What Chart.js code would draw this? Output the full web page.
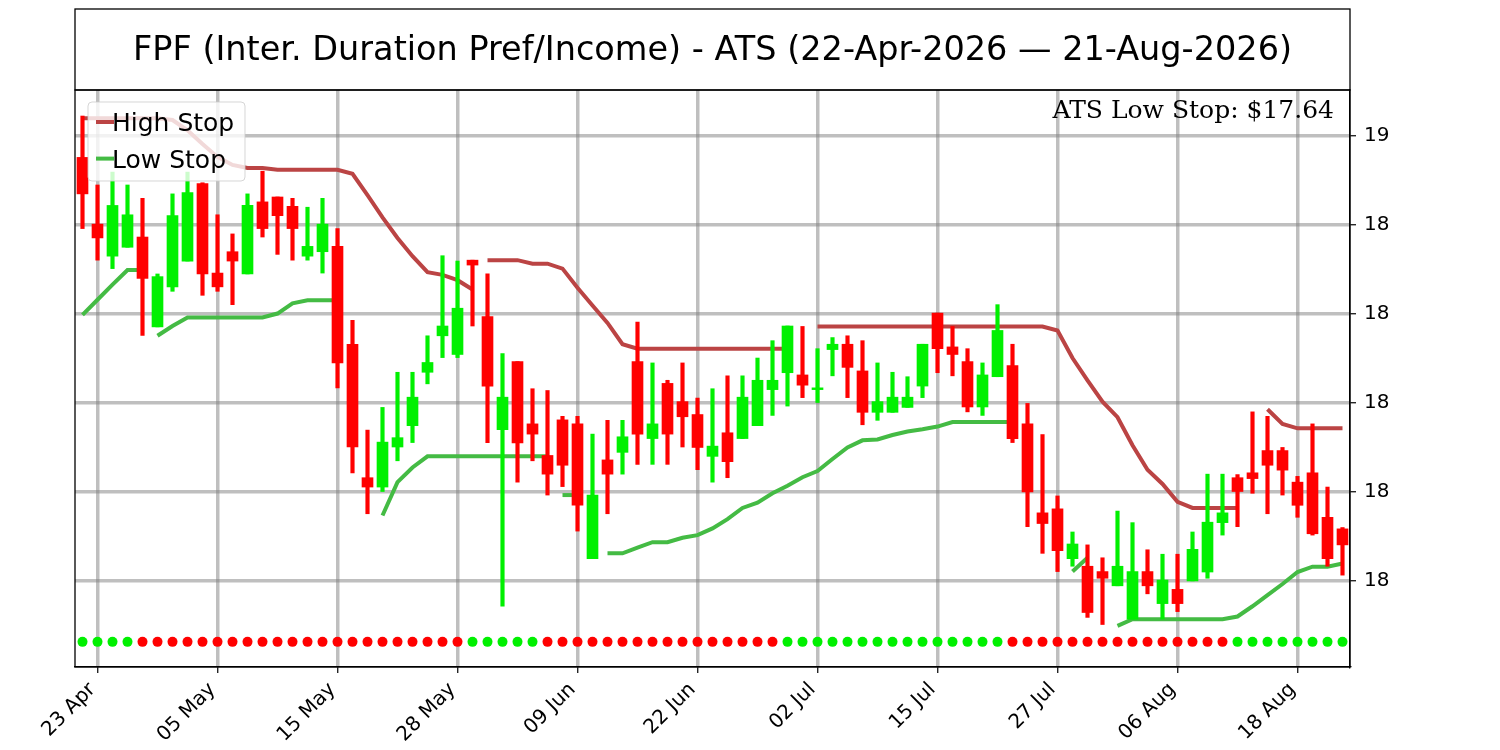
<!DOCTYPE html>
<html>
<head>
<meta charset="utf-8">
<title>FPF - ATS</title>
<script src="https://cdn.jsdelivr.net/npm/chart.js@4.4.1/dist/chart.umd.min.js"></script>
<style>
  html, body { margin: 0; padding: 0; background: #fff; }
  #wrap { width: 1500px; height: 750px; }
  canvas { display: block; }
</style>
</head>
<body>
<div id="wrap"><canvas id="atsChart" width="1500" height="750"></canvas></div>
<script>
// trading days, 22 Apr 2026 - 21 Aug 2026
const dates = [
    '22 Apr', '23 Apr', '24 Apr', '27 Apr', '28 Apr', '29 Apr', '30 Apr',
    '01 May', '04 May', '05 May', '06 May', '07 May', '08 May', '11 May', '12 May', '13 May', '14 May', '15 May',
    '18 May', '19 May', '20 May', '21 May', '22 May', '26 May', '27 May', '28 May', '29 May',
    '01 Jun', '02 Jun', '03 Jun', '04 Jun', '05 Jun', '08 Jun', '09 Jun', '10 Jun', '11 Jun', '12 Jun',
    '15 Jun', '16 Jun', '17 Jun', '18 Jun', '22 Jun', '23 Jun', '24 Jun', '25 Jun', '26 Jun', '29 Jun', '30 Jun',
    '01 Jul', '02 Jul', '06 Jul', '07 Jul', '08 Jul', '09 Jul', '10 Jul', '13 Jul', '14 Jul', '15 Jul', '16 Jul',
    '17 Jul', '20 Jul', '21 Jul', '22 Jul', '23 Jul', '24 Jul', '27 Jul', '28 Jul', '29 Jul', '30 Jul', '31 Jul',
    '03 Aug', '04 Aug', '05 Aug', '06 Aug', '07 Aug', '10 Aug', '11 Aug', '12 Aug', '13 Aug', '14 Aug',
    '17 Aug', '18 Aug', '19 Aug', '20 Aug', '21 Aug'
];

const open = [
    18.552, 18.402, 18.330, 18.350, 18.373, 18.171, 18.261, 18.319, 18.493, 18.292,
    18.340, 18.290, 18.452, 18.463, 18.442, 18.330, 18.340, 18.352, 18.132, 17.832,
    17.811, 17.901, 17.949, 18.069, 18.151, 18.109, 18.321, 18.194, 17.940, 18.093,
    17.953, 17.882, 17.962, 17.953, 17.650, 17.872, 17.889, 18.093, 17.920, 18.044,
    18.003, 17.974, 17.880, 17.933, 17.920, 17.949, 18.030, 18.068, 18.063, 18.030,
    18.120, 18.132, 18.072, 17.979, 17.979, 17.990, 18.038, 18.202, 18.126, 18.093,
    17.991, 18.059, 18.084, 17.953, 17.753, 17.762, 17.650, 17.633, 17.621, 17.589,
    17.514, 17.621, 17.549, 17.581, 17.600, 17.620, 17.731, 17.832, 17.843, 17.893,
    17.893, 17.822, 17.843, 17.743, 17.717
];
const high = [
    18.645, 18.490, 18.519, 18.490, 18.460, 18.290, 18.470, 18.519, 18.495, 18.423,
    18.380, 18.470, 18.521, 18.463, 18.460, 18.440, 18.460, 18.392, 18.186, 17.939,
    17.990, 18.069, 18.069, 18.151, 18.331, 18.319, 18.321, 18.290, 18.111, 18.093,
    18.032, 18.028, 17.970, 17.970, 17.930, 17.961, 17.961, 18.182, 18.090, 18.051,
    18.090, 18.011, 18.032, 18.061, 18.061, 18.101, 18.140, 18.173, 18.172, 18.122,
    18.147, 18.151, 18.140, 18.090, 18.069, 18.059, 18.132, 18.202, 18.172, 18.122,
    18.090, 18.221, 18.132, 17.999, 17.929, 17.791, 17.710, 17.681, 17.652, 17.757,
    17.731, 17.670, 17.660, 17.660, 17.710, 17.840, 17.840, 17.839, 17.980, 17.970,
    17.900, 17.835, 17.953, 17.811, 17.720
];
const low = [
    18.392, 18.321, 18.302, 18.350, 18.152, 18.171, 18.251, 18.319, 18.242, 18.251,
    18.221, 18.290, 18.373, 18.334, 18.321, 18.321, 18.292, 18.034, 17.843, 17.751,
    17.801, 17.870, 17.911, 18.043, 18.102, 18.102, 18.173, 17.911, 17.543, 17.822,
    17.870, 17.793, 17.812, 17.712, 17.650, 17.751, 17.840, 17.862, 17.862, 17.862,
    17.901, 17.850, 17.822, 17.832, 17.920, 17.949, 17.972, 17.993, 18.012, 18.001,
    18.061, 18.012, 17.951, 17.961, 17.979, 17.990, 18.012, 18.068, 18.061, 17.980,
    17.972, 18.059, 17.911, 17.722, 17.662, 17.621, 17.633, 17.518, 17.502, 17.589,
    17.514, 17.571, 17.514, 17.531, 17.600, 17.606, 17.703, 17.722, 17.797, 17.751,
    17.793, 17.743, 17.703, 17.633, 17.613
];
const close = [
    18.470, 18.371, 18.444, 18.423, 18.280, 18.284, 18.421, 18.473, 18.290, 18.261,
    18.319, 18.444, 18.392, 18.421, 18.392, 18.352, 18.402, 18.090, 17.901, 17.811,
    17.912, 17.922, 18.013, 18.091, 18.173, 18.213, 18.310, 18.038, 18.013, 17.910,
    17.930, 17.840, 17.860, 17.770, 17.793, 17.840, 17.924, 17.930, 17.953, 17.930,
    17.969, 17.900, 17.903, 17.868, 18.013, 18.051, 18.051, 18.173, 18.040, 18.034,
    18.132, 18.080, 17.979, 18.003, 18.013, 18.013, 18.132, 18.122, 18.109, 17.991,
    18.063, 18.163, 17.920, 17.800, 17.729, 17.668, 17.683, 17.529, 17.606, 17.633,
    17.621, 17.589, 17.602, 17.549, 17.671, 17.732, 17.753, 17.801, 17.830, 17.860,
    17.849, 17.770, 17.706, 17.650, 17.681
];

// trailing stops (null = no stop that day)
const highStop = [
    18.640, 18.640, 18.640, 18.640, 18.640, 18.640, 18.636, 18.613, 18.582, 18.553,
    18.535, 18.528, 18.528, 18.524, 18.524, 18.524, 18.524, 18.524, 18.515, 18.467,
    18.417, 18.371, 18.330, 18.294, 18.288, 18.276, 18.255, 18.321, 18.321, 18.321,
    18.313, 18.313, 18.302, 18.259, 18.219, 18.180, 18.132, 18.122, 18.122, 18.122,
    18.122, 18.122, 18.122, 18.122, 18.122, 18.122, 18.122, 18.122, null, 18.172,
    18.172, 18.172, 18.172, 18.172, 18.172, 18.172, 18.172, 18.172, 18.172, 18.172,
    18.172, 18.172, 18.172, 18.172, 18.172, 18.163, 18.101, 18.051, 18.003, 17.968,
    17.905, 17.850, 17.818, 17.778, 17.764, 17.764, 17.764, 17.764, null, 17.986,
    17.953, 17.943, 17.943, 17.943, 17.943
];
const lowStop = [
    18.198, 18.232, 18.266, 18.299, 18.299, 18.151, 18.173, 18.192, 18.192, 18.192,
    18.192, 18.192, 18.192, 18.201, 18.224, 18.231, 18.231, 18.231, null, null,
    17.747, 17.822, 17.855, 17.880, 17.880, 17.880, 17.880, 17.880, 17.880, 17.880,
    17.880, 17.880, 17.793, 17.793, null, 17.662, 17.662, 17.675, 17.687, 17.687,
    17.697, 17.703, 17.718, 17.739, 17.764, 17.776, 17.797, 17.814, 17.833, 17.847,
    17.874, 17.900, 17.916, 17.918, 17.928, 17.936, 17.941, 17.947, 17.957, 17.957,
    17.957, 17.957, 17.957, null, null, null, 17.621, 17.652, null, 17.499,
    17.514, 17.514, 17.514, 17.514, 17.514, 17.514, 17.514, 17.520, 17.543, 17.568,
    17.593, 17.620, 17.632, 17.632, 17.639
];
// a new stop starts on these days (line is not joined to the day before)
const highStopRestarts = [27];
const lowStopRestarts = [5, 32];

// ATS state per day: 1 = long (green dot), 0 = short (red dot)
const atsState = [
    1, 1, 1, 1, 0, 0, 0, 0, 0, 0, 0, 0, 0, 0, 0, 0, 0, 0, 0, 0,
    0, 0, 0, 0, 0, 0, 1, 1, 1, 1, 1, 0, 0, 0, 0, 0, 0, 0, 0, 0,
    0, 0, 0, 0, 0, 0, 0, 1, 1, 1, 1, 1, 1, 1, 1, 1, 1, 1, 1, 1,
    1, 1, 0, 0, 0, 0, 0, 0, 0, 0, 0, 0, 0, 0, 0, 0, 0, 1, 1, 1,
    1, 1, 1, 1, 1
];
const stateRowLevel = 17.463;

const priceTicks = [17.6, 17.8, 18.0, 18.2, 18.4, 18.6];
const firstDateTick = 1;
const dateTickStep = 8;
const lastLowStop = 17.64;

const UP = '#00f000';
const DOWN = '#ff0000';
const HIGH_STOP = '#bb4444';
const LOW_STOP = '#44bb44';
const GRID = 'rgba(128,128,128,0.5)';

Chart.defaults.font.family = 'DejaVu Sans';
Chart.defaults.color = '#000';

const candleColors = close.map((c, i) => c >= open[i] ? UP : DOWN);

// title box, frame, legend and the stop label
const decorations = {
    id: 'decorations',
    afterDraw(chart) {
        const ctx = chart.ctx;
        const a = chart.chartArea;
        ctx.save();

        // legend
        const lx = a.left + 13, ly = a.top + 12, lw = 157, lh = 79;
        ctx.beginPath();
        ctx.roundRect(lx, ly, lw, lh, 4);
        ctx.fillStyle = 'rgba(255,255,255,0.8)';
        ctx.fill();
        ctx.strokeStyle = 'rgba(204,204,204,0.8)';
        ctx.lineWidth = 1;
        ctx.stroke();
        const items = [chart.data.datasets[2], chart.data.datasets[3]];
        items.forEach((ds, k) => {
            const y = ly + 20 + k * 36.6;
            ctx.strokeStyle = ds.borderColor;
            ctx.lineWidth = 4;
            ctx.beginPath();
            ctx.moveTo(lx + 8, y);
            ctx.lineTo(lx + 26, y);
            ctx.stroke();
            ctx.fillStyle = '#000';
            ctx.font = '25px "DejaVu Sans"';
            ctx.textBaseline = 'alphabetic';
            ctx.textAlign = 'left';
            ctx.fillText(ds.label, lx + 24, y + 9);
        });

        // last low stop
        ctx.font = '25px "DejaVu Serif"';
        ctx.textAlign = 'right';
        ctx.fillStyle = '#000';
        ctx.fillText('ATS Low Stop: $' + lastLowStop.toFixed(2), a.right - 16, a.top + 28);

        // frames
        ctx.strokeStyle = '#000';
        ctx.lineWidth = 1.3;
        ctx.strokeRect(a.left, 9, a.right - a.left, a.top - 9);
        ctx.strokeRect(a.left, a.top, a.right - a.left, a.bottom - a.top);
        ctx.restore();
    }
};

new Chart(document.getElementById('atsChart'), {
    type: 'bar',
    data: {
        labels: dates,
        datasets: [
            {
                label: 'Range',
                data: dates.map((d, i) => [low[i], high[i]]),
                backgroundColor: candleColors,
                barThickness: 3.5,
                grouped: false,
                order: 1
            },
            {
                label: 'Body',
                data: dates.map((d, i) => [open[i], close[i]]),
                backgroundColor: candleColors,
                barThickness: 11,
                minBarLength: 1,
                grouped: false,
                order: 0
            },
            {
                type: 'line',
                label: 'High Stop',
                data: highStop,
                borderColor: HIGH_STOP,
                borderWidth: 4,
                pointRadius: 0,
                tension: 0,
                spanGaps: false,
                segment: {
                    borderColor: c => highStopRestarts.includes(c.p1DataIndex) ? 'rgba(0,0,0,0)' : undefined
                },
                order: 2
            },
            {
                type: 'line',
                label: 'Low Stop',
                data: lowStop,
                borderColor: LOW_STOP,
                borderWidth: 4,
                pointRadius: 0,
                tension: 0,
                spanGaps: false,
                segment: {
                    borderColor: c => lowStopRestarts.includes(c.p1DataIndex) ? 'rgba(0,0,0,0)' : undefined
                },
                order: 2
            },
            {
                type: 'line',
                label: 'ATS State',
                data: atsState.map(() => stateRowLevel),
                showLine: false,
                pointRadius: 5,
                pointBorderWidth: 0,
                pointBackgroundColor: atsState.map(s => s ? UP : DOWN),
                order: 3
            }
        ]
    },
    options: {
        responsive: false,
        animation: false,
        devicePixelRatio: 1,
        layout: { padding: { left: 75, top: 0, right: 0, bottom: 0 } },
        plugins: {
            legend: { display: false },
            tooltip: { enabled: false },
            title: {
                display: true,
                fullSize: false,
                text: 'FPF (Inter. Duration Pref/Income) - ATS (22-Apr-2026 \u2014 21-Aug-2026)',
                font: { size: 33.5, weight: 'normal', family: 'DejaVu Sans' },
                color: '#000',
                padding: { top: 31, bottom: 18.8 }
            }
        },
        scales: {
            x: {
                type: 'category',
                offset: true,
                grid: {
                    offset: false,
                    color: GRID,
                    lineWidth: 3.5,
                    tickColor: '#000',
                    tickLength: 6,
                    tickWidth: 1.2
                },
                border: { display: true, color: '#000', width: 1.3 },
                ticks: {
                    autoSkip: false,
                    maxRotation: 45,
                    minRotation: 45,
                    padding: 5,
                    labelOffset: -5,
                    font: { size: 20 },
                    color: '#000'
                },
                afterBuildTicks: scale => {
                    scale.ticks = scale.ticks.filter(t => t.value >= firstDateTick && (t.value - firstDateTick) % dateTickStep === 0);
                },
                afterFit: scale => { scale.height = 83; }
            },
            y: {
                type: 'linear',
                position: 'right',
                min: 17.4065,
                max: 18.7035,
                grid: {
                    color: GRID,
                    lineWidth: 3.5,
                    tickColor: '#000',
                    tickLength: 6,
                    tickWidth: 1.2
                },
                border: { display: true, color: '#000', width: 1.3 },
                ticks: {
                    padding: 8,
                    font: { size: 20 },
                    color: '#000',
                    callback: v => Number(v).toFixed(0)
                },
                afterBuildTicks: scale => {
                    scale.ticks = priceTicks.map(v => ({ value: v }));
                },
                afterFit: scale => { scale.width = 150; }
            }
        }
    },
    plugins: [decorations]
});
</script>
</body>
</html>
